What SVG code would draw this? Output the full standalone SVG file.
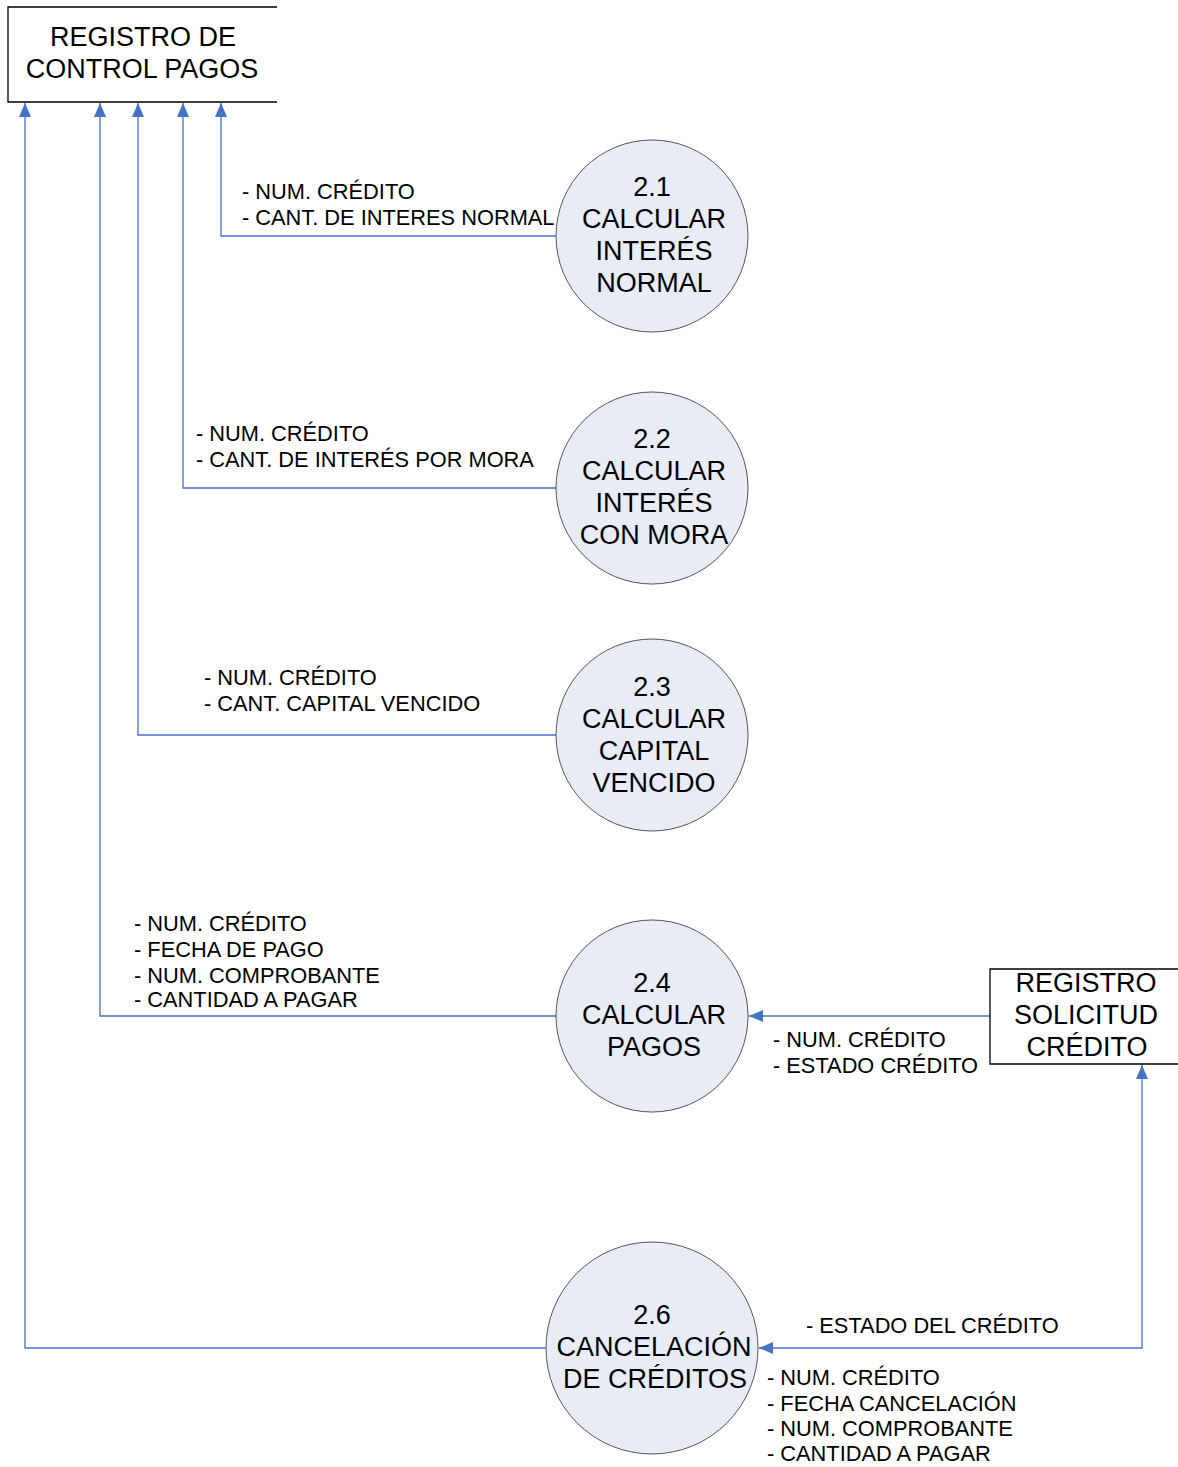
<svg xmlns="http://www.w3.org/2000/svg" width="1178" height="1467" viewBox="0 0 1178 1467">
  <style>
    .store { fill: none; stroke: #000; stroke-width: 1.3; }
    .proc { fill: #e7ecf6; stroke: #555; stroke-width: 1; }
    .big { font-family: "Liberation Sans", Arial, sans-serif; font-size: 27px; fill: #000; text-anchor: middle; }
    .lbl { font-family: "Liberation Sans", Arial, sans-serif; font-size: 21.8px; fill: #000; }
    .flow { fill: none; stroke: #4472c4; stroke-width: 1.3; }
  </style>
  <defs>
    <marker id="arrL" viewBox="0 0 14 12" refX="14" refY="6" markerWidth="14" markerHeight="12" markerUnits="userSpaceOnUse" orient="auto-start-reverse">
      <path d="M0,0 L14,6 L0,12 z" fill="#4472c4"/>
    </marker>
  </defs>

  <g id="connectors">
    <polyline class="flow" points="556,236 221,236 221,103" marker-end="url(#arrL)"/>
    <polyline class="flow" points="556,488 183,488 183,103" marker-end="url(#arrL)"/>
    <polyline class="flow" points="556,735 138,735 138,103" marker-end="url(#arrL)"/>
    <polyline class="flow" points="556,1016 100,1016 100,103" marker-end="url(#arrL)"/>
    <polyline class="flow" points="546,1348 25,1348 25,103" marker-end="url(#arrL)"/>
    <line class="flow" x1="990" y1="1016" x2="749" y2="1016" marker-end="url(#arrL)"/>
    <polyline class="flow" points="759,1348 1142,1348 1142,1065" marker-start="url(#arrL)" marker-end="url(#arrL)"/>

    <text class="lbl" x="242" y="199">- NUM. CRÉDITO</text>
    <text class="lbl" x="242" y="225">- CANT. DE INTERES NORMAL</text>
    <text class="lbl" x="196" y="441">- NUM. CRÉDITO</text>
    <text class="lbl" x="196" y="467">- CANT. DE INTERÉS POR MORA</text>
    <text class="lbl" x="204" y="685">- NUM. CRÉDITO</text>
    <text class="lbl" x="204" y="711">- CANT. CAPITAL VENCIDO</text>
    <text class="lbl" x="134" y="931">- NUM. CRÉDITO</text>
    <text class="lbl" x="134" y="957">- FECHA DE PAGO</text>
    <text class="lbl" x="134" y="983">- NUM. COMPROBANTE</text>
    <text class="lbl" x="134" y="1007">- CANTIDAD A PAGAR</text>
    <text class="lbl" x="773" y="1047">- NUM. CRÉDITO</text>
    <text class="lbl" x="773" y="1073">- ESTADO CRÉDITO</text>
    <text class="lbl" x="806" y="1333">- ESTADO DEL CRÉDITO</text>
    <text class="lbl" x="767" y="1385">- NUM. CRÉDITO</text>
    <text class="lbl" x="767" y="1411">- FECHA CANCELACIÓN</text>
    <text class="lbl" x="767" y="1436">- NUM. COMPROBANTE</text>
    <text class="lbl" x="767" y="1461">- CANTIDAD A PAGAR</text>
  </g>

  <g id="store-control-pagos">
    <polyline class="store" points="277,7 8,7 8,102 277,102"/>
    <text class="big" x="143" y="46">REGISTRO DE</text>
    <text class="big" x="142" y="78">CONTROL PAGOS</text>
  </g>

  <g id="store-solicitud-credito">
    <polyline class="store" points="1178,969 990,969 990,1064 1178,1064"/>
    <text class="big" x="1086" y="992">REGISTRO</text>
    <text class="big" x="1086" y="1024">SOLICITUD</text>
    <text class="big" x="1087" y="1056">CRÉDITO</text>
  </g>

  <g id="p2-1">
    <circle class="proc" cx="652" cy="236" r="96"/>
    <text class="big" x="652" y="196">2.1</text>
    <text class="big" x="654" y="228">CALCULAR</text>
    <text class="big" x="654" y="260">INTERÉS</text>
    <text class="big" x="654" y="292">NORMAL</text>
  </g>

  <g id="p2-2">
    <circle class="proc" cx="652" cy="488" r="96"/>
    <text class="big" x="652" y="448">2.2</text>
    <text class="big" x="654" y="480">CALCULAR</text>
    <text class="big" x="654" y="512">INTERÉS</text>
    <text class="big" x="654" y="544">CON MORA</text>
  </g>

  <g id="p2-3">
    <circle class="proc" cx="652" cy="735" r="96"/>
    <text class="big" x="652" y="696">2.3</text>
    <text class="big" x="654" y="728">CALCULAR</text>
    <text class="big" x="654" y="760">CAPITAL</text>
    <text class="big" x="654" y="792">VENCIDO</text>
  </g>

  <g id="p2-4">
    <circle class="proc" cx="652" cy="1016" r="96"/>
    <text class="big" x="652" y="992">2.4</text>
    <text class="big" x="654" y="1024">CALCULAR</text>
    <text class="big" x="654" y="1056">PAGOS</text>
  </g>

  <g id="p2-6">
    <circle class="proc" cx="652" cy="1348" r="106"/>
    <text class="big" x="652" y="1324">2.6</text>
    <text class="big" x="654" y="1356">CANCELACIÓN</text>
    <text class="big" x="655" y="1388">DE CRÉDITOS</text>
  </g>
</svg>
